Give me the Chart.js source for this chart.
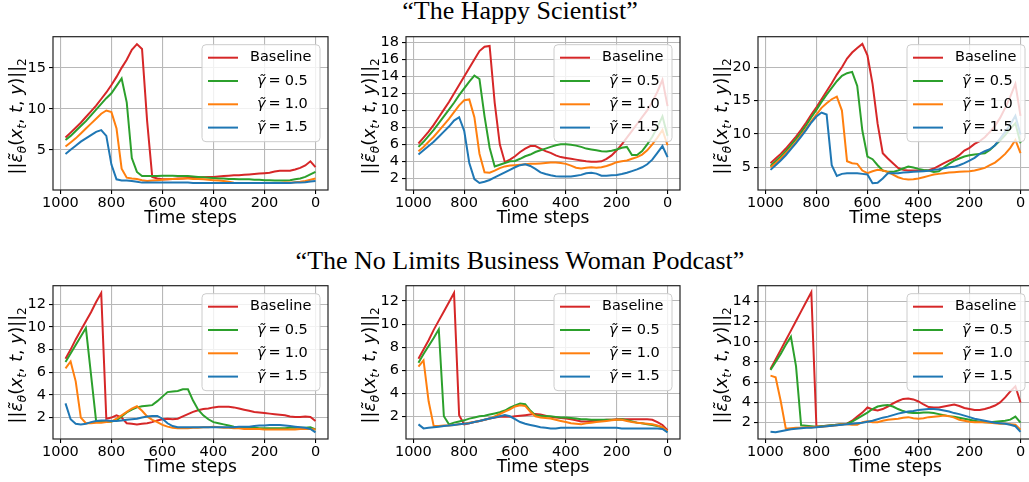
<!DOCTYPE html>
<html>
<head>
<meta charset="utf-8">
<script src="https://cdn.jsdelivr.net/npm/chart.js@4.4.0/dist/chart.umd.min.js"></script>
<style>
  body { margin: 0; width: 1029px; height: 482px; overflow: hidden; background: #fff; position: relative; }
  canvas { position: absolute; }
  .title { position: absolute; left: 0; width: 1040px; text-align: center; font-family: "Liberation Serif", "Times New Roman", serif; font-size: 26px; line-height: 26px; color: #000; white-space: nowrap; }
</style>
</head>
<body>
<div class="title" style="top:-2px">“The Happy Scientist”</div>
<div class="title" style="top:248px">“The No Limits Business Woman Podcast”</div>
<canvas id="c1"></canvas>
<canvas id="c2"></canvas>
<canvas id="c3"></canvas>
<canvas id="c4"></canvas>
<canvas id="c5"></canvas>
<canvas id="c6"></canvas>
<script>
// time steps shared by every curve
const steps = [980, 960, 940, 920, 900, 880, 860, 840, 820, 800,
               780, 760, 740, 720, 700, 680, 660, 640, 620, 600,
               580, 560, 540, 520, 500, 480, 460, 440, 420, 400,
               380, 360, 340, 320, 300, 280, 260, 240, 220, 200,
               180, 160, 140, 120, 100, 80, 60, 40, 20, 0];
const xTicks = [1000, 800, 600, 400, 200, 0];
const legendNames = ['Baseline', '0.5', '1.0', '1.5'];

// "The Happy Scientist"
const sci1Ticks = [5, 10, 15];
const sci1Base = [6.5,7.1,7.7,8.3,9.0,9.7,10.4,11.2,12.0,12.9, 13.9,15.0,16.0,17.2,17.9,17.3,8.5,1.7,1.5,1.4, 1.4,1.45,1.5,1.5,1.55,1.6,1.6,1.65,1.7,1.7, 1.75,1.8,1.85,1.9,1.9,1.95,2.0,2.05,2.1,2.15, 2.2,2.35,2.45,2.45,2.45,2.6,2.8,3.1,3.6,2.9];
const sci1G05 = [6.2,6.7,7.3,7.9,8.5,9.2,9.9,10.6,11.3,11.9, 12.8,13.7,10.8,4.0,2.3,1.8,1.8,1.8,1.8,1.85, 1.85,1.85,1.8,1.8,1.8,1.75,1.7,1.65,1.6,1.55, 1.5,1.5,1.45,1.45,1.4,1.4,1.4,1.35,1.35,1.3, 1.3,1.25,1.25,1.25,1.3,1.4,1.5,1.7,2.0,2.3];
const sci1G10 = [5.4,5.9,6.4,7.0,7.6,8.2,8.8,9.4,9.8,9.6, 7.6,2.7,1.6,1.5,1.45,1.3,1.2,1.25,1.3,1.35, 1.4,1.45,1.45,1.5,1.5,1.45,1.45,1.4,1.35,1.3, 1.25,1.2,1.1,1.0,0.95,0.95,0.95,0.95,0.95,0.95, 0.95,0.95,0.95,1.0,1.0,1.05,1.1,1.2,1.35,1.5];
const sci1G15 = [4.5,5.0,5.5,6.0,6.4,6.8,7.2,7.4,6.7,3.2, 1.4,1.25,1.25,1.2,1.1,1.0,1.0,1.0,1.0,1.0, 1.0,1.0,1.0,1.0,1.0,0.95,0.95,0.95,0.95,0.95, 0.95,0.95,0.95,0.95,0.95,0.95,0.95,0.95,0.95,0.95, 0.95,0.95,0.95,0.95,0.95,1.0,1.0,1.05,1.15,1.2];

const sci2Ticks = [2, 4, 6, 8, 10, 12, 14, 16, 18];
const sci2Base = [6.1,6.8,7.5,8.3,9.2,10.1,11.0,12.0,13.0,14.0, 15.0,16.0,17.0,17.5,17.6,10.9,6.0,3.9,4.2,4.6, 5.1,5.5,5.8,5.8,5.5,5.2,5.0,4.7,4.5,4.4, 4.3,4.2,4.1,4.0,3.95,3.95,4.0,4.3,4.7,5.3, 6.0,6.8,7.6,8.4,9.2,10.0,11.0,12.2,13.6,10.5];
const sci2G05 = [5.7,6.3,7.0,7.7,8.5,9.3,10.1,10.9,11.8,12.6, 13.4,14.1,13.7,9.3,5.6,3.4,3.6,3.8,4.0,4.05, 4.3,4.6,4.8,5.1,5.3,5.5,5.7,5.9,6.0,6.0, 5.95,5.85,5.7,5.5,5.4,5.3,5.2,5.15,5.25,5.4, 5.6,5.7,4.75,4.75,5.2,6.0,6.9,8.0,9.3,7.0];
const sci2G10 = [5.2,5.7,6.3,6.9,7.6,8.3,9.0,9.8,10.6,11.2, 11.3,9.2,4.9,2.7,2.65,2.9,3.2,3.4,3.5,3.55, 3.6,3.65,3.7,3.7,3.75,3.8,3.85,3.85,3.8,3.7, 3.5,3.25,3.15,3.25,3.3,3.25,3.3,3.45,3.65,3.9, 4.0,4.1,4.3,4.5,4.8,5.3,6.0,6.8,7.7,5.9];
const sci2G15 = [4.8,5.3,5.8,6.3,6.9,7.5,8.1,8.8,9.2,7.6, 3.8,1.9,1.45,1.6,1.8,2.1,2.4,2.7,3.0,3.3, 3.55,3.65,3.45,3.1,2.7,2.5,2.35,2.25,2.2,2.2, 2.2,2.3,2.4,2.6,2.65,2.55,2.3,2.3,2.35,2.4, 2.5,2.65,2.85,3.05,3.3,3.65,4.2,5.0,5.8,4.5];

const sci3Ticks = [5, 10, 15, 20];
const sci3Base = [5.6,6.3,7.0,7.8,8.7,9.6,10.6,11.7,12.9,14.0, 15.2,16.4,17.6,18.9,20.0,21.3,22.2,22.9,23.5,21.8, 17.5,11.5,7.1,6.3,5.6,4.9,4.6,4.5,4.5,4.5, 4.5,4.55,4.8,5.2,5.6,6.0,6.3,6.8,7.5,7.9, 8.5,8.9,9.5,10.3,11.2,12.4,13.9,15.6,17.5,12.7];
const sci3G05 = [5.2,5.9,6.6,7.4,8.3,9.2,10.2,11.3,12.5,13.6, 14.8,15.9,16.9,17.9,18.7,19.1,19.3,17.2,10.5,6.6, 6.2,5.3,4.5,4.3,4.3,4.5,4.8,5.1,4.95,4.75, 4.6,4.5,4.3,4.4,5.0,5.5,6.0,6.3,6.6,6.8, 6.9,7.0,7.1,7.6,8.3,9.0,9.8,10.8,11.6,8.6];
const sci3G10 = [5.0,5.6,6.3,7.1,7.9,8.8,9.8,10.8,11.9,12.9, 13.9,14.6,15.2,15.6,13.5,5.9,5.6,5.5,4.5,4.1, 4.4,4.6,4.5,4.3,3.9,3.5,3.25,3.15,3.2,3.3, 3.5,3.7,3.9,4.0,4.1,4.2,4.25,4.3,4.35,4.4, 4.5,4.7,4.9,5.3,5.7,6.3,7.0,7.9,9.1,7.1];
const sci3G15 = [4.6,5.3,6.0,6.8,7.7,8.6,9.6,10.6,11.7,12.6, 13.2,12.9,5.3,3.7,4.0,4.1,4.1,4.1,4.0,3.9, 2.6,2.65,3.3,4.1,4.1,4.1,4.2,4.25,4.3,4.35, 4.4,4.45,4.6,4.7,4.85,5.0,5.05,5.3,5.6,6.0, 6.4,7.0,7.4,7.7,8.3,9.3,10.3,11.4,12.7,9.9];

// "The No Limits Business Woman Podcast"
const pod1Ticks = [2, 4, 6, 8, 10, 12];
const pod1Base = [7.2,8.0,8.9,9.7,10.5,11.3,12.2,13.0,1.9,2.0, 2.2,2.0,1.5,1.45,1.4,1.45,1.5,1.6,1.75,1.85, 1.9,1.85,1.9,2.1,2.3,2.5,2.65,2.75,2.8,2.9, 2.95,2.95,2.95,2.9,2.8,2.7,2.6,2.5,2.45,2.4, 2.35,2.3,2.25,2.2,2.1,2.05,2.05,2.1,2.05,1.7];
const pod1G05 = [6.9,7.65,8.4,9.15,9.9,5.8,1.7,1.65,1.6,1.65, 1.75,2.1,2.45,2.7,2.9,3.0,3.05,3.1,3.45,3.85, 4.25,4.3,4.35,4.5,4.5,3.5,2.7,2.2,1.85,1.6, 1.5,1.4,1.3,1.2,1.15,1.1,1.1,1.1,1.05,1.05, 1.05,1.05,1.05,1.05,1.1,1.1,1.1,1.1,1.15,0.95];
const pod1G10 = [6.35,6.95,5.2,2.0,1.5,1.5,1.55,1.55,1.6,1.65, 1.9,2.2,2.5,2.8,3.0,2.6,2.1,1.8,1.6,1.35, 1.2,1.1,1.05,1.05,1.05,1.1,1.1,1.15,1.15,1.2, 1.15,1.1,1.1,1.05,1.05,1.0,1.0,1.0,1.0,0.95, 0.95,0.95,0.95,0.95,0.95,0.95,1.0,1.0,1.0,0.95];
const pod1G15 = [3.25,1.85,1.45,1.4,1.45,1.6,1.7,1.75,1.75,1.7, 1.7,1.75,1.8,1.85,1.9,2.0,2.1,2.15,2.15,1.9, 1.5,1.25,1.15,1.15,1.15,1.15,1.15,1.15,1.15,1.15, 1.15,1.15,1.15,1.15,1.2,1.2,1.2,1.25,1.3,1.3, 1.35,1.35,1.35,1.3,1.25,1.2,1.15,1.1,1.0,0.7];

const pod2Ticks = [2, 4, 6, 8, 10, 12];
const pod2Base = [7.0,7.8,8.6,9.5,10.3,11.1,11.9,12.7,2.1,1.3, 1.4,1.5,1.6,1.7,1.8,1.9,1.95,1.95,1.95,2.0, 2.05,2.1,2.15,2.2,2.15,2.05,1.95,1.9,1.85,1.8, 1.75,1.65,1.55,1.55,1.6,1.6,1.65,1.7,1.7,1.75, 1.75,1.75,1.75,1.75,1.75,1.75,1.7,1.5,1.25,0.8];
const pod2G05 = [6.65,7.4,8.1,8.8,9.55,2.0,1.3,1.45,1.55,1.65, 1.8,1.9,2.0,2.05,2.15,2.25,2.35,2.5,2.75,2.95, 3.1,3.05,2.5,2.1,2.05,2.0,2.0,1.95,1.9,1.9, 1.85,1.8,1.75,1.75,1.7,1.7,1.7,1.7,1.7,1.7, 1.75,1.65,1.55,1.45,1.4,1.3,1.25,1.15,1.05,0.65];
const pod2G10 = [6.3,6.85,3.3,1.15,1.15,1.2,1.2,1.25,1.3,1.35, 1.45,1.5,1.6,1.7,1.8,2.0,2.2,2.4,2.6,2.85, 2.95,2.9,2.4,2.0,1.9,1.85,1.8,1.7,1.6,1.5, 1.4,1.35,1.3,1.4,1.45,1.5,1.55,1.6,1.65,1.7, 1.7,1.6,1.5,1.45,1.4,1.35,1.3,1.2,1.05,0.7];
const pod2G15 = [1.3,0.95,1.0,1.05,1.1,1.15,1.2,1.25,1.3,1.35, 1.4,1.5,1.6,1.7,1.8,1.9,2.0,2.1,2.0,1.75, 1.5,1.35,1.25,1.15,1.05,1.0,0.95,0.95,1.0,1.0, 1.0,1.0,1.0,1.0,1.0,1.0,1.0,1.0,1.0,1.0, 0.95,0.95,0.95,0.95,0.95,0.95,0.95,0.95,0.9,0.6];

const pod3Ticks = [2, 4, 6, 8, 10, 12, 14];
const pod3Base = [7.3,8.25,9.2,10.15,11.1,12.05,13.0,13.95,14.9,1.6, 1.65,1.7,1.75,1.8,1.85,1.9,2.2,2.6,3.0,3.5, 3.3,3.2,3.35,3.6,3.9,4.15,4.35,4.4,4.3,4.1, 3.8,3.55,3.5,3.5,3.6,3.7,3.8,3.65,3.45,3.35, 3.25,3.25,3.35,3.5,3.7,4.0,4.5,5.1,5.6,4.0];
const pod3G05 = [7.2,8.0,8.8,9.7,10.5,7.6,1.75,1.7,1.65,1.6, 1.65,1.7,1.75,1.8,1.85,1.9,2.1,2.4,2.7,3.0, 3.35,3.6,3.7,3.75,3.6,3.35,3.15,3.0,2.95,2.95, 3.0,3.0,2.95,2.85,2.75,2.65,2.6,2.5,2.4,2.3, 2.2,2.1,2.05,2.05,2.1,2.15,2.2,2.3,2.6,2.0];
const pod3G10 = [6.65,6.5,4.15,1.4,1.45,1.5,1.5,1.55,1.55,1.6, 1.6,1.65,1.7,1.75,1.85,1.85,1.8,1.8,2.05,2.15, 2.05,2.05,2.2,2.3,2.35,2.4,2.5,2.55,2.45,2.4, 2.45,2.55,2.6,2.65,2.7,2.65,2.5,2.3,2.2,2.1, 2.05,2.05,2.05,2.0,1.95,1.9,1.9,1.85,1.8,1.3];
const pod3G15 = [1.1,1.05,1.15,1.25,1.35,1.4,1.45,1.5,1.5,1.55, 1.6,1.65,1.7,1.75,1.8,1.85,1.9,1.95,2.0,2.1, 2.2,2.35,2.5,2.6,2.75,2.9,3.0,3.1,3.15,3.25, 3.3,3.35,3.35,3.3,3.2,3.1,2.95,2.85,2.7,2.55, 2.4,2.3,2.2,2.1,2.0,1.95,1.9,1.8,1.65,1.1];

const colors = ['#d62728', '#2ca02c', '#ff7f0e', '#1f77b4'];
const FONT = '"DejaVu Sans", sans-serif';

// where each plot area sits on the page
const panels = [
    { id: 'c1', left: 53, top: 33, w: 275, h: 157, yMin: 0.1, yMax: 18.8, yTicks: sci1Ticks, series: [sci1Base, sci1G05, sci1G10, sci1G15] },
    { id: 'c2', left: 406, top: 33, w: 274, h: 157, yMin: 0.62, yMax: 18.69, yTicks: sci2Ticks, series: [sci2Base, sci2G05, sci2G10, sci2G15] },
    { id: 'c3', left: 758, top: 33, w: 275, h: 157, yMin: 1.58, yMax: 24.58, yTicks: sci3Ticks, series: [sci3Base, sci3G05, sci3G10, sci3G15] },
    { id: 'c4', left: 53, top: 282, w: 275, h: 157, yMin: 0.11, yMax: 13.64, yTicks: pod1Ticks, series: [pod1Base, pod1G05, pod1G10, pod1G15] },
    { id: 'c5', left: 406, top: 282, w: 274, h: 157, yMin: 0.03, yMax: 13.33, yTicks: pod2Ticks, series: [pod2Base, pod2G05, pod2G10, pod2G15] },
    { id: 'c6', left: 758, top: 282, w: 275, h: 157, yMin: 0.39, yMax: 15.54, yTicks: pod3Ticks, series: [pod3Base, pod3G05, pod3G10, pod3G15] }
];

const AXIS_W = 53, AXIS_H = 40, PAD_T = 8, PAD_R = 10;

// pieces of the y label ||eps~_theta(x_t, t, y)||_2 : [text, italic, subscript]
const yLabelParts = [
    ['||', false, false], ['\u03b5\u0303', true, false], ['\u03b8', true, true],
    ['(', false, false], ['x', true, false], ['t', true, true], [', ', false, false],
    ['t', true, false], [', ', false, false], ['y', true, false], [')', false, false],
    ['||', false, false], ['2', false, true]
];

function partFont(italic, sub) {
    return (italic ? 'italic ' : '') + (sub ? '12px ' : '17.5px ') + FONT;
}

const decor = {
    id: 'decor',
    afterDatasetsDraw(chart) {
        const ctx = chart.ctx;
        const a = chart.chartArea;
        ctx.save();
        // axes frame
        ctx.strokeStyle = '#222';
        ctx.lineWidth = 1.2;
        ctx.strokeRect(a.left, a.top, a.right - a.left, a.bottom - a.top);

        // legend box, upper right
        const bw = 118, bh = 97;
        const bx = a.right - 8 - bw, by = a.top + 8;
        ctx.beginPath();
        ctx.roundRect(bx, by, bw, bh, 4);
        ctx.fillStyle = 'rgba(255,255,255,0.8)';
        ctx.fill();
        ctx.strokeStyle = '#cccccc';
        ctx.lineWidth = 1;
        ctx.stroke();
        ctx.textBaseline = 'middle';
        legendNames.forEach((name, i) => {
            const y = by + 13 + i * 23.3;
            ctx.strokeStyle = colors[i];
            ctx.lineWidth = 2;
            ctx.beginPath();
            ctx.moveTo(bx + 6, y);
            ctx.lineTo(bx + 36, y);
            ctx.stroke();
            ctx.fillStyle = '#000';
            if (i === 0) {
                ctx.font = '14.5px ' + FONT;
                ctx.fillText(name, bx + 48, y);
            } else {
                // gamma-tilde in italic, "= value" upright
                let x = bx + 55;
                ctx.font = 'italic 14.5px ' + FONT;
                ctx.fillText('\u03b3\u0303', x, y);
                x += ctx.measureText('\u03b3\u0303').width + 3;
                ctx.font = '14.5px ' + FONT;
                ctx.fillText('=', x, y);
                x += ctx.measureText('=').width + 4;
                ctx.fillText(name, x, y);
            }
        });
        ctx.restore();
    },
    afterDraw(chart) {
        const ctx = chart.ctx;
        const a = chart.chartArea;
        ctx.save();
        ctx.translate(a.left - 36, (a.top + a.bottom) / 2 + 3);
        ctx.rotate(-Math.PI / 2);
        ctx.fillStyle = '#000';
        ctx.textBaseline = 'alphabetic';
        let total = 0;
        yLabelParts.forEach(([t, it, sub]) => { ctx.font = partFont(it, sub); total += ctx.measureText(t).width; });
        let x = -total / 2;
        yLabelParts.forEach(([t, it, sub]) => {
            ctx.font = partFont(it, sub);
            ctx.fillText(t, x, sub ? 9 : 5);
            x += ctx.measureText(t).width;
        });
        ctx.restore();
    }
};

panels.forEach(p => {
    const cv = document.getElementById(p.id);
    const cw = AXIS_W + p.w + PAD_R;
    const ch = PAD_T + p.h + AXIS_H;
    cv.width = cw; cv.height = ch;
    cv.style.width = cw + 'px'; cv.style.height = ch + 'px';
    cv.style.left = (p.left - AXIS_W) + 'px';
    cv.style.top = (p.top - PAD_T) + 'px';

    new Chart(cv.getContext('2d'), {
        type: 'line',
        data: {
            datasets: p.series.map((vals, i) => ({
                label: legendNames[i],
                data: steps.map((t, k) => ({ x: t, y: vals[k] })),
                borderColor: colors[i],
                borderWidth: 2,
                pointRadius: 0,
                tension: 0,
                fill: false,
                order: 3 - i
            }))
        },
        options: {
            responsive: false,
            animation: false,
            devicePixelRatio: 1,
            layout: { padding: { top: PAD_T, right: PAD_R, left: 0, bottom: 0 } },
            plugins: { legend: { display: false }, tooltip: { enabled: false } },
            scales: {
                x: {
                    type: 'linear',
                    reverse: true,
                    min: -49,
                    max: 1029,
                    afterBuildTicks: s => { s.ticks = xTicks.map(v => ({ value: v })); },
                    afterFit: s => { s.height = AXIS_H; },
                    grid: { color: '#b8b8b8', lineWidth: 1.1, tickColor: '#000', tickLength: 4, tickWidth: 1.1 },
                    border: { display: false },
                    ticks: { color: '#000', font: { family: FONT, size: 14.5 }, padding: 1, maxRotation: 0, autoSkip: false, callback: v => String(v) },
                    title: { display: true, text: 'Time steps', color: '#000', font: { family: FONT, size: 17 }, padding: { top: 0, bottom: 1 } }
                },
                y: {
                    type: 'linear',
                    min: p.yMin,
                    max: p.yMax,
                    afterBuildTicks: s => { s.ticks = p.yTicks.map(v => ({ value: v })); },
                    afterFit: s => { s.width = AXIS_W; },
                    grid: { color: '#b8b8b8', lineWidth: 1.1, tickColor: '#000', tickLength: 4, tickWidth: 1.1 },
                    border: { display: false },
                    ticks: { color: '#000', font: { family: FONT, size: 14.5 }, padding: 3, autoSkip: false, callback: v => String(v) }
                }
            }
        },
        plugins: [decor]
    });
});
</script>
</body>
</html>
